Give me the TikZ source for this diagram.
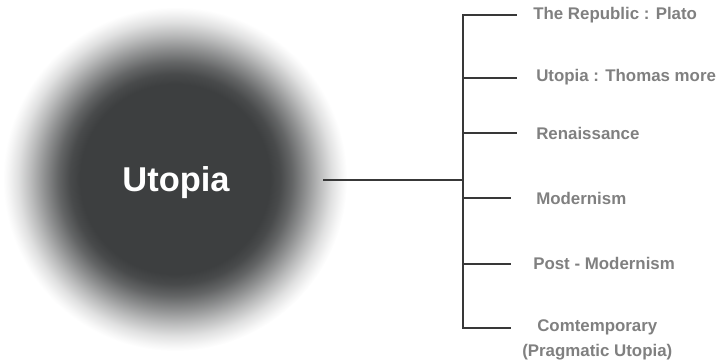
\documentclass[tikz,border=0pt]{standalone}
\usepackage{fontspec}
\setmainfont{Liberation Sans}
\usetikzlibrary{positioning}

% Define colors
\definecolor{blobcore}{HTML}{3D3F40}
\definecolor{labelgray}{HTML}{808080}
\definecolor{linegray}{HTML}{383838}
\colorlet{blobA}{blobcore!94!white}
\colorlet{blobB}{blobcore!80!white}
\colorlet{blobC}{blobcore!58!white}
\colorlet{blobD}{blobcore!35!white}
\colorlet{blobE}{blobcore!16!white}
\colorlet{blobF}{blobcore!5!white}

% Soft dark disc
\pgfdeclareradialshading{blob}{\pgfpoint{0bp}{0bp}}{%
  color(0bp)=(blobcore); color(13.8bp)=(blobcore); color(15.3bp)=(blobA);
  color(17bp)=(blobB); color(19bp)=(blobC); color(21bp)=(blobD);
  color(22.8bp)=(blobE); color(24.2bp)=(blobF); color(25bp)=(white);
  color(50bp)=(white)}

\tikzset{
  branch/.style={linegray, line width=1.3pt},
  period/.style={anchor=west, inner sep=0pt, text=labelgray,
    font=\fontsize{12}{17.5}\selectfont\bfseries},
  title/.style={inner sep=0pt, text=white,
    font=\fontsize{24.5}{28}\selectfont\bfseries}
}

\begin{document}
\begin{tikzpicture}[x=0.025cm, y=-0.025cm]

\useasboundingbox (0,0) rectangle (724,363);

% Draw the disc and its title
\node[circle, minimum size=8.6cm, inner sep=0pt, shading=blob] (blob) at (175,179) {};
\node[title] (title) at (176,183) {Utopia};

% Draw the spine
\coordinate (stem) at (323,180);
\coordinate (hub) at (463,180);
\coordinate (s1) at (463,15);
\coordinate (s2) at (463,78);
\coordinate (s3) at (463,133);
\coordinate (s4) at (463,198);
\coordinate (s5) at (463,264);
\coordinate (s6) at (463,328);

\draw[branch] (stem) -- (hub);
\draw[branch, line cap=rect] (s1) -- (s6);

% Add the labels
\node[period] (republic) at (533,15) {The Republic : Plato};
\node[period] (more) at (536,77) {Utopia : Thomas more};
\node[period] (renaissance) at (536,133) {Renaissance};
\node[period] (modern) at (536,198) {Modernism};
\node[period] (postmodern) at (533,263) {Post - Modernism};
\node[period, align=center] (contemporary) at (522,340) {Comtemporary\\(Pragmatic Utopia)};

% Draw the branches
\coordinate (e1) at (517,15);
\coordinate (e2) at (517,78);
\coordinate (e3) at (517,133);
\coordinate (e4) at (511,198);
\coordinate (e5) at (511,264);
\coordinate (e6) at (511,328);

\draw[branch] (s1) -- (e1);
\draw[branch] (s2) -- (e2);
\draw[branch] (s3) -- (e3);
\draw[branch] (s4) -- (e4);
\draw[branch] (s5) -- (e5);
\draw[branch] (s6) -- (e6);

\end{tikzpicture}
\end{document}
